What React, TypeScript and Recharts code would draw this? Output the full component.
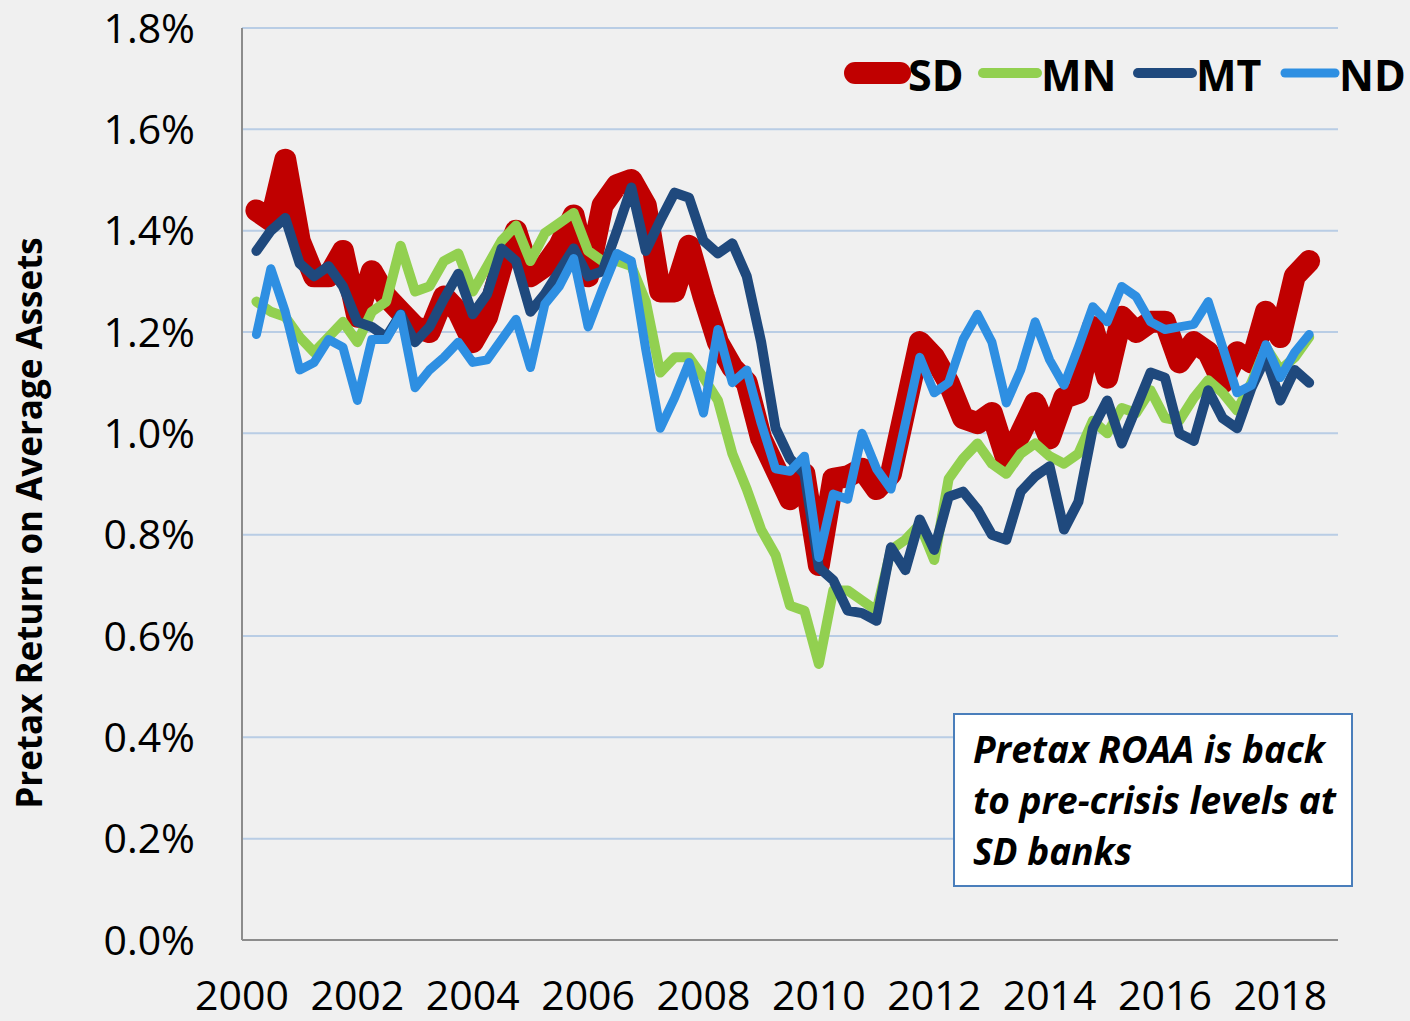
import * as React from 'react';
import { CartesianGrid, Line, LineChart, XAxis, YAxis } from 'recharts';

// quarterly pretax ROAA (%), 2000Q1 .. 2018Q2
const quarters: string[] = [];
for (let y = 2000; y <= 2018; y++) {
  for (let q = 1; q <= 4; q++) {
    if (y === 2018 && q > 2) break;
    quarters.push(`${y}Q${q}`);
  }
}

const sd = [
  1.44, 1.42, 1.54, 1.38, 1.31, 1.31, 1.36, 1.23, 1.32, 1.27,
  1.24, 1.21, 1.2, 1.27, 1.24, 1.18, 1.23, 1.33, 1.4, 1.31,
  1.33, 1.37, 1.43, 1.31, 1.45, 1.49, 1.5, 1.45, 1.28, 1.28,
  1.37, 1.27, 1.18, 1.13, 1.1, 0.99, 0.93, 0.87, 0.92, 0.74,
  0.91, 0.915, 0.93, 0.89, 0.92, 1.05, 1.18, 1.15, 1.1, 1.03,
  1.02, 1.04, 0.95, 1.0, 1.06, 0.99, 1.07, 1.08, 1.21, 1.11,
  1.23, 1.2, 1.22, 1.22, 1.14, 1.18, 1.16, 1.1, 1.16, 1.14,
  1.24, 1.19, 1.31, 1.34,
];

const mn = [
  1.26, 1.24, 1.23, 1.19, 1.16, 1.19, 1.22, 1.18, 1.24, 1.26,
  1.37, 1.28, 1.29, 1.34, 1.355, 1.28, 1.33, 1.38, 1.41, 1.34,
  1.395, 1.415, 1.435, 1.36, 1.34, 1.34, 1.33, 1.26, 1.12, 1.15,
  1.15, 1.11, 1.065, 0.96, 0.89, 0.81, 0.76, 0.66, 0.65, 0.545,
  0.69, 0.69, 0.67, 0.65, 0.77, 0.79, 0.82, 0.75, 0.91, 0.95,
  0.98, 0.94, 0.92, 0.96, 0.98, 0.955, 0.94, 0.96, 1.025, 1.0,
  1.05, 1.04, 1.085, 1.03, 1.025, 1.07, 1.105, 1.08, 1.045, 1.1,
  1.17, 1.125, 1.15, 1.19,
];

const mt = [
  1.36, 1.4, 1.425, 1.335, 1.31, 1.33, 1.29, 1.22, 1.21, 1.19,
  1.235, 1.18, 1.21, 1.265, 1.315, 1.235, 1.275, 1.365, 1.34, 1.24,
  1.275, 1.32, 1.365, 1.31, 1.32, 1.4, 1.485, 1.36, 1.42, 1.475,
  1.465, 1.38, 1.355, 1.375, 1.31, 1.18, 1.01, 0.95, 0.92, 0.735,
  0.71, 0.65, 0.645, 0.63, 0.775, 0.73, 0.83, 0.77, 0.875, 0.885,
  0.85, 0.8, 0.79, 0.885, 0.915, 0.935, 0.81, 0.865, 1.01, 1.065,
  0.98, 1.05, 1.12, 1.11, 1.0, 0.985, 1.085, 1.03, 1.01, 1.09,
  1.15, 1.065, 1.125, 1.1,
];

const nd = [
  1.195, 1.325, 1.24, 1.125, 1.14, 1.185, 1.17, 1.065, 1.185, 1.185,
  1.235, 1.09, 1.125, 1.15, 1.18, 1.14, 1.145, 1.185, 1.225, 1.13,
  1.255, 1.29, 1.345, 1.21, 1.285, 1.355, 1.34, 1.165, 1.01, 1.07,
  1.14, 1.04, 1.205, 1.1, 1.125, 1.02, 0.93, 0.925, 0.955, 0.755,
  0.88, 0.87, 1.0, 0.93, 0.89, 1.02, 1.15, 1.08, 1.1, 1.185,
  1.235, 1.18, 1.06, 1.125, 1.22, 1.145, 1.095, 1.17, 1.25, 1.22,
  1.29, 1.27, 1.22, 1.205, 1.21, 1.215, 1.26, 1.17, 1.08, 1.095,
  1.175, 1.11, 1.16, 1.195,
];

const yearTicks = [2000, 2002, 2004, 2006, 2008, 2010, 2012, 2014, 2016, 2018];
const pctTicks = [0, 0.2, 0.4, 0.6, 0.8, 1.0, 1.2, 1.4, 1.6, 1.8];

const note = ['Pretax ROAA is back', 'to pre-crisis levels at', 'SD banks'];

// x = quarter end as fractional year
const data = quarters.map((label, i) => ({
  label,
  t: 2000 + (i + 1) / 4,
  SD: sd[i],
  MN: mn[i],
  MT: mt[i],
  ND: nd[i],
}));

const FONT = "'Open Sans', sans-serif";

const series = [
  { key: 'SD', color: '#C00000', width: 22 },
  { key: 'MN', color: '#92D050', width: 10 },
  { key: 'MT', color: '#1F497D', width: 10 },
  { key: 'ND', color: '#2E8FE2', width: 9 },
];

// legend layout: line start / end, text start
const legendPos: Record<string, [number, number, number]> = {
  SD: [855, 900, 908],
  MN: [983, 1037, 1041],
  MT: [1138, 1192, 1196],
  ND: [1285, 1335, 1339],
};

function ChartLegend() {
  return (
    <svg width={1410} height={140} style={{ position: 'absolute', left: 0, top: 0, pointerEvents: 'none' }}>
      {series.map((s) => {
        const [x1, x2, tx] = legendPos[s.key];
        return (
          <g key={s.key}>
            <line x1={x1} x2={x2} y1={73} y2={73} stroke={s.color} strokeWidth={s.width} strokeLinecap='round' />
            <text x={tx} y={74} dominantBaseline='central' fontFamily={FONT} fontWeight={700} fontSize={43} fill='#000'>
              {s.key}
            </text>
          </g>
        );
      })}
    </svg>
  );
}

function YTitle() {
  return (
    <text
      x={28}
      y={523}
      transform='rotate(-90 28 523)'
      textAnchor='middle'
      dominantBaseline='central'
      fontFamily={FONT}
      fontWeight={700}
      fontSize={35}
      fill='#000'
    >
      Pretax Return on Average Assets
    </text>
  );
}

export default function App() {
  return (
    <div style={{ position: 'absolute', left: 0, top: 0, width: 1410, height: 1021, background: '#f0f0f0', overflow: 'hidden' }}>
      <LineChart width={1410} height={1021} data={data} margin={{ top: 28, right: 72, bottom: 0, left: 0 }}>
        <CartesianGrid vertical={false} stroke='#b9cde5' strokeWidth={2} />
        <XAxis
          dataKey='t'
          type='number'
          domain={[2000, 2019]}
          ticks={yearTicks}
          height={81}
          tickLine={false}
          tickSize={0}
          tickMargin={41}
          axisLine={{ stroke: '#8c8c8c', strokeWidth: 2 }}
          tick={{ fill: '#000', fontSize: 41, fontFamily: FONT }}
          interval={0}
        />
        <YAxis
          type='number'
          domain={[0, 1.8]}
          ticks={pctTicks}
          width={242}
          tickLine={false}
          tickSize={0}
          tickMargin={47}
          axisLine={{ stroke: '#8c8c8c', strokeWidth: 2 }}
          tick={{ fill: '#000', fontSize: 41, fontFamily: FONT }}
          tickFormatter={(v: number) => `${v.toFixed(1)}%`}
          interval={0}
          label={{ content: () => <YTitle /> }}
        />
        {series.map((s) => (
          <Line
            key={s.key}
            type='linear'
            dataKey={s.key}
            stroke={s.color}
            strokeWidth={s.width}
            strokeLinejoin='round'
            strokeLinecap='round'
            dot={false}
            activeDot={false}
            isAnimationActive={false}
          />
        ))}
      </LineChart>
      <ChartLegend />
      <div
        style={{
          position: 'absolute',
          left: 953,
          top: 713,
          width: 400,
          height: 174,
          boxSizing: 'border-box',
          background: '#fff',
          border: '2px solid #4a7ebb',
          padding: '8px 0 0 18px',
          fontFamily: FONT,
          fontWeight: 700,
          fontStyle: 'italic',
          fontSize: 37,
          lineHeight: '51px',
          color: '#000',
          whiteSpace: 'nowrap',
        }}
      >
        {note.map((line) => (
          <div key={line}>{line}</div>
        ))}
      </div>
    </div>
  );
}
